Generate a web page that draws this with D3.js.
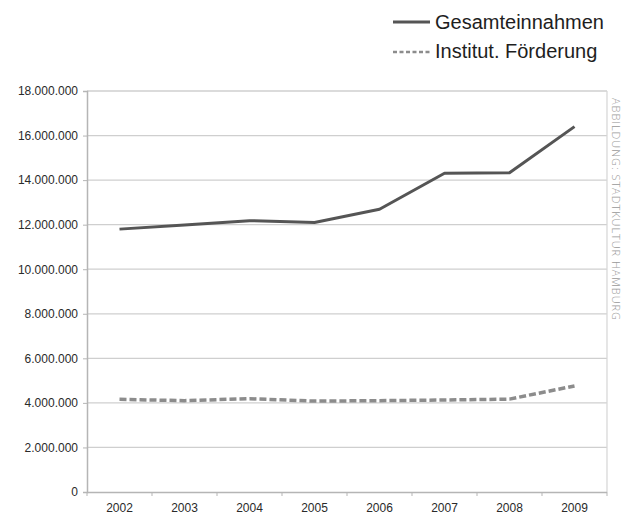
<!DOCTYPE html>
<html lang="de">
<head>
<meta charset="utf-8">
<script src="https://cdn.jsdelivr.net/npm/d3@7"></script>
<style>
  body { margin: 0; background: #fff; overflow: hidden; }
  svg { display: block; }
  .axis text { font-family: "Liberation Sans", Arial, sans-serif; font-size: 12px; fill: #2a2a2a; }
  .axis path, .axis line { stroke: #b5b5b5; }
</style>
</head>
<body>
<script>
const years = ["2002", "2003", "2004", "2005", "2006", "2007", "2008", "2009"];
const gesamt = [11800000, 11990000, 12180000, 12100000, 12690000, 14310000, 14330000, 16400000];
const institut = [4160000, 4100000, 4190000, 4080000, 4100000, 4130000, 4170000, 4760000];
const yTicks = [0, 2000000, 4000000, 6000000, 8000000, 10000000, 12000000, 14000000, 16000000, 18000000];
const seriesNames = ["Gesamteinnahmen", "Institut. Förderung"];

const w = 623, h = 516;
const plotLeft = 87, plotRight = 607, plotTop = 91, plotBottom = 492;

const svg = d3.select("body").append("svg")
  .attr("width", w)
  .attr("height", h);

const xScale = d3.scaleBand().domain(years).range([plotLeft, plotRight]);
const yScale = d3.scaleLinear().domain([0, 18000000]).range([plotBottom, plotTop]);

const fmt = v => d3.format(",")(v).replace(/,/g, ".");

// gridlines
svg.append("g")
  .selectAll("line")
  .data(yTicks.slice(1))
  .enter()
  .append("line")
  .attr("x1", plotLeft)
  .attr("x2", plotRight)
  .attr("y1", d => yScale(d))
  .attr("y2", d => yScale(d))
  .attr("stroke", "#cfcfcf")
  .attr("stroke-width", 1.3);

// right border
svg.append("line")
  .attr("x1", plotRight).attr("x2", plotRight)
  .attr("y1", plotTop).attr("y2", plotBottom)
  .attr("stroke", "#d8d8d8")
  .attr("stroke-width", 1.3);

// axes
const yAxis = d3.axisLeft(yScale).tickValues(yTicks).tickSize(4).tickPadding(5).tickFormat(fmt);
svg.append("g")
  .attr("class", "axis")
  .attr("transform", "translate(" + plotLeft + ",0)")
  .call(yAxis)
  .call(g => g.select(".domain").attr("stroke-width", 1.5));

const xAxis = d3.axisBottom(xScale).tickSize(0).tickPadding(11);
const gx = svg.append("g")
  .attr("class", "axis")
  .attr("transform", "translate(0," + plotBottom + ")")
  .call(xAxis);
gx.select(".domain").attr("d", "M" + plotLeft + ",0.5H" + plotRight).attr("stroke-width", 1.5);
gx.selectAll(".edge")
  .data(d3.range(years.length + 1))
  .enter()
  .append("line")
  .attr("x1", i => plotLeft + i * xScale.step())
  .attr("x2", i => plotLeft + i * xScale.step())
  .attr("y1", 0)
  .attr("y2", 4)
  .attr("stroke", "#b5b5b5");

// lines
const line = d3.line()
  .x((d, i) => xScale(years[i]) + xScale.bandwidth() / 2)
  .y(d => yScale(d));

svg.append("path")
  .datum(gesamt)
  .attr("d", line)
  .attr("fill", "none")
  .attr("stroke", "#555")
  .attr("stroke-width", 3)
  .attr("stroke-linejoin", "round");

svg.append("path")
  .datum(institut)
  .attr("d", line)
  .attr("fill", "none")
  .attr("stroke", "#8c8c8c")
  .attr("stroke-width", 3.5)
  .attr("stroke-dasharray", "7,3");

// legend
const legend = svg.append("g");
legend.append("line")
  .attr("x1", 393).attr("x2", 430).attr("y1", 22).attr("y2", 22)
  .attr("stroke", "#555").attr("stroke-width", 3);
legend.append("line")
  .attr("x1", 393).attr("x2", 430).attr("y1", 52).attr("y2", 52)
  .attr("stroke", "#8c8c8c").attr("stroke-width", 2.5)
  .attr("stroke-dasharray", "4,2.5");
legend.selectAll("text")
  .data(seriesNames)
  .enter()
  .append("text")
  .attr("x", 435)
  .attr("y", (d, i) => 29 + i * 29)
  .attr("font-family", "Liberation Sans, Arial, sans-serif")
  .attr("font-size", "20px")
  .attr("fill", "#1e1e1e")
  .text(d => d);

// credit
svg.append("text")
  .attr("transform", "translate(612,98) rotate(90)")
  .attr("font-family", "Open Sans, sans-serif")
  .attr("font-weight", 300)
  .attr("font-size", "11px")
  .attr("fill", "#999")
  .attr("textLength", 222)
  .text("ABBILDUNG: STADTKULTUR HAMBURG");
</script>
</body>
</html>
